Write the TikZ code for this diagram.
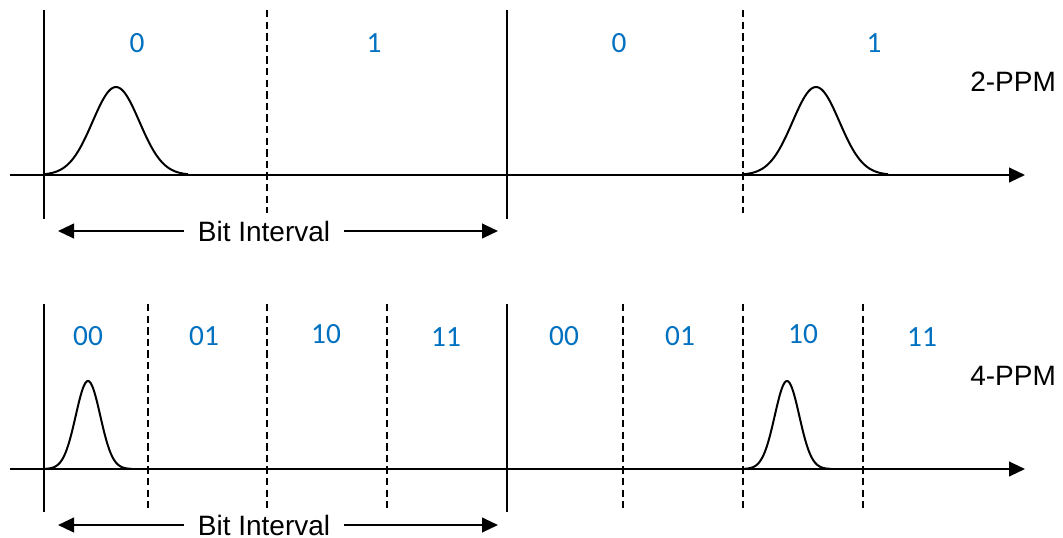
\documentclass[tikz,border=0pt]{standalone}
\usepackage{fontspec}
\setmainfont{Liberation Sans}
\newfontfamily\calib{Carlito}
\usetikzlibrary{arrows.meta}
\definecolor{lblue}{HTML}{0070C0}
\tikzset{
  solidv/.style={draw=black, line width=1.6pt},
  dashv/.style={draw=black, line width=1.3pt, dash pattern=on 5.5pt off 3.2pt},
  axis/.style={draw=black, line width=1.6pt, -{Triangle[length=12pt,width=11pt]}},
  biarrow/.style={draw=black, line width=1.6pt, -{Triangle[length=12pt,width=11pt]}},
  pulse/.style={draw=black, line width=1.5pt},
  bitlbl/.style={text=lblue, font=\calib\fontsize{22}{26}\selectfont, inner sep=0pt},
  blk/.style={text=black, font=\fontsize{21}{25}\selectfont, inner sep=0pt}
}
\begin{document}
\begin{tikzpicture}[x=0.75pt, y=-0.75pt]
\useasboundingbox (0,0) rectangle (1063,537);
% ---------- top (2-PPM) ----------
\coordinate (ta0) at (10,175);
\coordinate (ta1) at (1025,175);
\draw[axis] (ta0) -- (ta1);
\foreach \xx/\nm in {44/a, 507/b} {
  \coordinate (ts\nm0) at (\xx,10);
  \coordinate (ts\nm1) at (\xx,219);
  \draw[solidv] (ts\nm0) -- (ts\nm1);
}
\foreach \xx/\nm in {267/a, 743/b} {
  \coordinate (td\nm0) at (\xx,10);
  \coordinate (td\nm1) at (\xx,213);
  \draw[dashv] (td\nm0) -- (td\nm1);
}
\draw[pulse] plot[domain=44:188, samples=90, smooth] (\x, {175-88*exp(-((\x-116)^2)/1095)});
\draw[pulse] plot[domain=744:888, samples=90, smooth] (\x, {175-88*exp(-((\x-816)^2)/1095)});
\node[bitlbl] (t0a) at (137,43) {0};
\node[bitlbl] (t1a) at (374,43) {1};
\node[bitlbl] (t0b) at (619,43) {0};
\node[bitlbl] (t1b) at (874,43) {1};
\node[blk, anchor=west] (ppm2) at (970,82) {2-PPM};
\node[blk, inner xsep=10pt] (bi1) at (264,231) {Bit Interval};
\coordinate (bl1) at (58,231);
\coordinate (br1) at (498,231);
\draw[biarrow] (bi1.west) -- (bl1);
\draw[biarrow] (bi1.east) -- (br1);
% ---------- bottom (4-PPM) ----------
\coordinate (ba0) at (10,469);
\coordinate (ba1) at (1025,469);
\draw[axis] (ba0) -- (ba1);
\foreach \xx/\nm in {44/a, 507/b} {
  \coordinate (bs\nm0) at (\xx,304);
  \coordinate (bs\nm1) at (\xx,512);
  \draw[solidv] (bs\nm0) -- (bs\nm1);
}
\foreach \xx/\nm in {148/a, 267/b, 387/c, 623/d, 743/e, 863/f} {
  \coordinate (bd\nm0) at (\xx,304);
  \coordinate (bd\nm1) at (\xx,508);
  \draw[dashv] (bd\nm0) -- (bd\nm1);
}
\draw[pulse] plot[domain=44:132, samples=90, smooth] (\x, {469-88*exp(-((\x-88)^2)/300)});
\draw[pulse] plot[domain=743:831, samples=90, smooth] (\x, {469-88*exp(-((\x-787)^2)/300)});
\node[bitlbl] (b00a) at (88,336) {00};
\node[bitlbl] (b01a) at (204,336) {01};
\node[bitlbl] (b10a) at (326,334) {10};
\node[bitlbl] (b11a) at (446,337) {11};
\node[bitlbl] (b00b) at (564,336) {00};
\node[bitlbl] (b01b) at (680,336) {01};
\node[bitlbl] (b10b) at (803,334) {10};
\node[bitlbl] (b11b) at (922,337) {11};
\node[blk, anchor=west] (ppm4) at (970,376) {4-PPM};
\node[blk, inner xsep=10pt] (bi2) at (264,525) {Bit Interval};
\coordinate (bl2) at (58,525);
\coordinate (br2) at (498,525);
\draw[biarrow] (bi2.west) -- (bl2);
\draw[biarrow] (bi2.east) -- (br2);
\end{tikzpicture}
\end{document}
